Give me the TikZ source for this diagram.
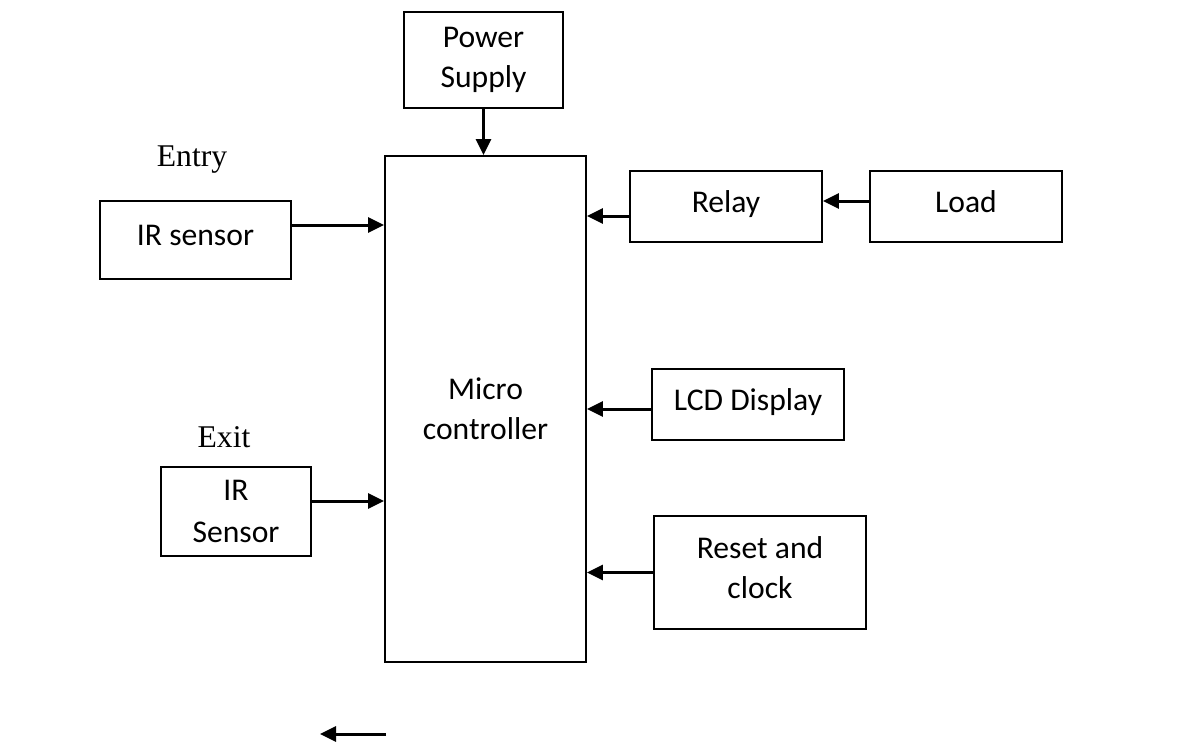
\documentclass[tikz,border=0pt]{standalone}
\usepackage{fontspec}
\setmainfont{Carlito}
\newfontfamily\timesfont{Liberation Serif}
\usetikzlibrary{arrows.meta}
\begin{document}
\begin{tikzpicture}[x=0.02cm,y=-0.02cm,
box/.style={draw,line width=1.1pt,align=center,inner sep=0pt,font=\fontsize{18}{23}\selectfont},
lift/.style={text depth=0.55em},
arr/.style={line width=1.7pt,-{Triangle[length=0.32cm,width=0.3cm]}}]
\useasboundingbox (0,0) rectangle (1189,748);
\node[box,minimum width=3.18cm,minimum height=1.92cm] (pwr) at (483.5,60) {Power\\Supply};
\node[box,minimum width=4.02cm,minimum height=10.12cm] (micro) at (485.5,409) {Micro\\controller};
\node[box,lift,minimum width=3.82cm,minimum height=1.56cm] (irin) at (195.5,240) {IR sensor};
\node[box,lift,minimum width=3.84cm,minimum height=1.42cm] (relay) at (726,206.5) {Relay};
\node[box,lift,minimum width=3.84cm,minimum height=1.42cm] (load) at (966,206.5) {Load};
\node[box,lift,minimum width=3.84cm,minimum height=1.42cm] (lcd) at (748,404.5) {LCD Display};
\node[box,minimum width=3.0cm,minimum height=1.78cm] (irout) at (236,511.5) {IR\\[1pt]Sensor};
\node[box,lift,minimum width=4.24cm,minimum height=2.26cm] (reset) at (760,572.5) {Reset and\\clock};
\node[font=\timesfont\fontsize{18}{22}\selectfont] (entry) at (192,160) {Entry};
\node[font=\timesfont\fontsize{18}{22}\selectfont] (exit) at (224,437) {Exit};
\draw[arr] (pwr.south) -- (pwr.south |- micro.north);
\draw[arr] (irin.east |- 0,225) -- (micro.west |- 0,225);
\draw[arr] (irout.east |- 0,501) -- (micro.west |- 0,501);
\draw[arr] (load.west |- 0,201) -- (relay.east |- 0,201);
\draw[arr] (relay.west |- 0,216) -- (micro.east |- 0,216);
\draw[arr] (lcd.west |- 0,409) -- (micro.east |- 0,409);
\draw[arr] (reset.west) -- (reset.west -| micro.east);
\coordinate (a1) at (386,734);
\coordinate (a2) at (320,734);
\draw[arr] (a1) -- (a2);
\end{tikzpicture}
\end{document}
